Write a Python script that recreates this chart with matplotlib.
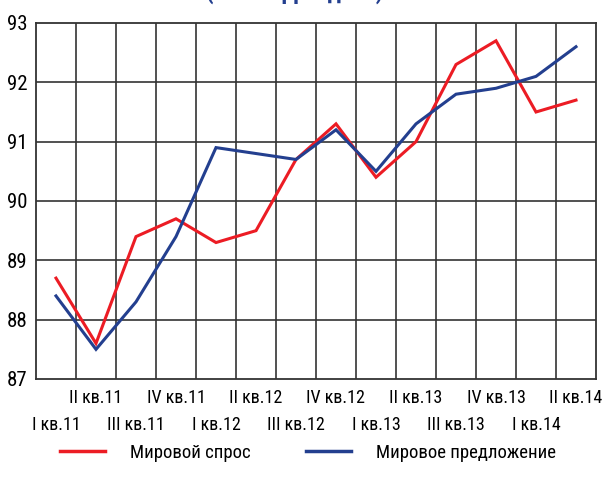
import matplotlib
matplotlib.use("Agg")
import matplotlib.pyplot as plt
from matplotlib.lines import Line2D

plt.rcParams['font.family'] = ['Roboto Condensed', 'PT Sans Narrow', 'DejaVu Sans']

quarters = ["I кв.11", "II кв.11", "III кв.11", "IV кв.11",
            "I кв.12", "II кв.12", "III кв.12", "IV кв.12",
            "I кв.13", "II кв.13", "III кв.13", "IV кв.13",
            "I кв.14", "II кв.14"]
demand = [88.7, 87.6, 89.4, 89.7, 89.3, 89.5, 90.7, 91.3, 90.4, 91.0, 92.3, 92.7, 91.5, 91.7]
supply = [88.4, 87.5, 88.3, 89.4, 90.9, 90.8, 90.7, 91.2, 90.5, 91.3, 91.8, 91.9, 92.1, 92.6]
y_ticks = [87, 88, 89, 90, 91, 92, 93]

RED = "#ec1c24"
BLUE = "#233f8f"
GRID = "#333333"

fig = plt.figure(figsize=(6.02, 4.93), dpi=100)
ax = fig.add_axes([36/602, 1-379/493, (596-36)/602, (379-23)/493])

x = list(range(len(quarters)))
ax.plot(x, demand, color=RED, lw=2.2, solid_joinstyle='miter', zorder=3)
ax.plot(x, supply, color=BLUE, lw=2.2, solid_joinstyle='miter', zorder=3)

ax.set_xlim(-0.5, len(quarters) - 0.5)
ax.set_ylim(87, 93)
ax.set_yticks(y_ticks)
ax.set_yticklabels([str(v) for v in y_ticks], fontsize=15)

# vertical grid at column boundaries
for b in range(1, len(quarters)):
    ax.axvline(b - 0.5, color=GRID, lw=1.2, zorder=1)
for v in y_ticks[1:-1]:
    ax.axhline(v, color=GRID, lw=1.2, zorder=1)

# two rows of quarter labels: odd quarters upper row (minor), even lower row (major)
even = [i for i in x if i % 2 == 0]
odd = [i for i in x if i % 2 == 1]
ax.set_xticks(even)
ax.set_xticklabels([quarters[i] for i in even], fontsize=13)
ax.set_xticks(odd, minor=True)
ax.set_xticklabels([quarters[i] for i in odd], minor=True, fontsize=13)
ax.tick_params(axis='both', which='both', length=0)
ax.tick_params(axis='x', which='minor', pad=7.5)
ax.tick_params(axis='x', which='major', pad=26.5)
ax.tick_params(axis='y', pad=6)
for s in ax.spines.values():
    s.set_color(GRID)
    s.set_linewidth(1.3)

# partially visible subtitle at the top
fig.text(0.49, 1.0 + 8/493, "(млн барр в день)", color=BLUE, fontsize=17,
         fontweight='bold', ha='center', va='center')

handles = [Line2D([], [], color=RED, lw=2.5), Line2D([], [], color=BLUE, lw=2.5)]
fig.legend(handles, ["Мировой спрос", "Мировое предложение"], loc='center',
           bbox_to_anchor=(308/602, 1-453/493), ncol=2, frameon=False,
           fontsize=13.5, handlelength=2.4, handletextpad=1.3, columnspacing=3.0)

fig.savefig("out.png", dpi=100)
